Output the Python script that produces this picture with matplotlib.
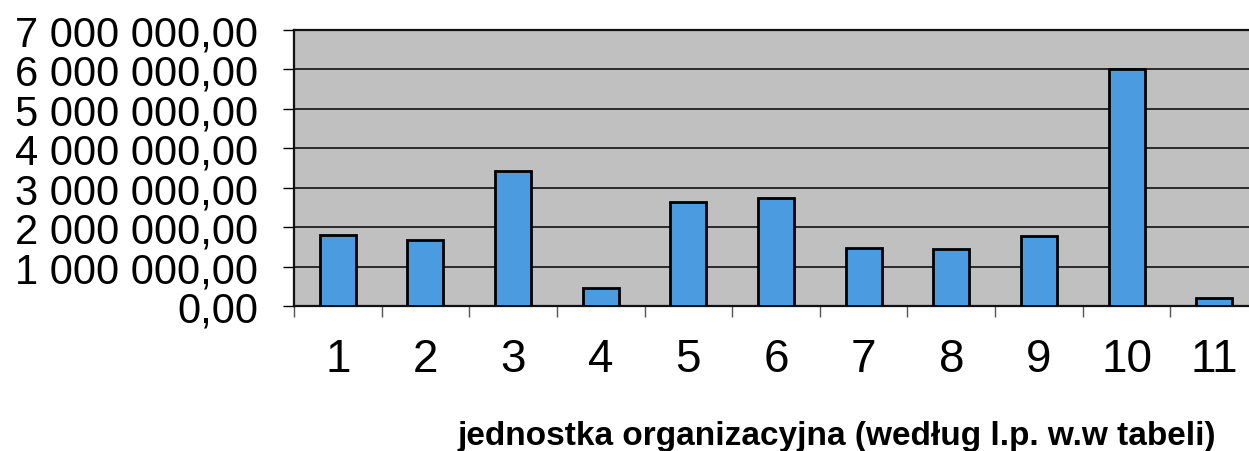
import matplotlib
matplotlib.use("Agg")
import matplotlib.pyplot as plt
from matplotlib.ticker import FuncFormatter, MultipleLocator, FixedLocator

plt.rcParams['font.family'] = ['Liberation Sans', 'DejaVu Sans']

# wartości
units = ["1", "2", "3", "4", "5", "6", "7", "8", "9", "10", "11"]
amounts = [1800000, 1680000, 3430000, 460000, 2630000, 2750000,
           1470000, 1440000, 1780000, 6000000, 200000]
x_title = "jednostka organizacyjna (według l.p. w.w tabeli)"

BAR_COLOR = "#4b9be0"
PLOT_BG = "#c0c0c0"


def pl_money(v, pos):
    s = f"{v:,.2f}"
    return s.replace(",", " ").replace(".", ",")


fig = plt.figure(figsize=(12.49, 4.52), dpi=100)
ax = fig.add_axes([294 / 1249, 145 / 452, 964 / 1249, 276 / 452])
ax.set_facecolor(PLOT_BG)

xs = list(range(len(units)))
ax.bar(xs, amounts, width=0.41, color=BAR_COLOR, edgecolor="black",
       linewidth=2, zorder=3)

ax.set_xlim(-0.5, len(units) - 0.5)
ax.set_ylim(0, 7000000)
ax.yaxis.set_major_locator(MultipleLocator(1000000))
ax.yaxis.set_major_formatter(FuncFormatter(pl_money))
ax.grid(axis="y", color="#2a2a2a", linewidth=1.4, zorder=1)

ax.set_xticks(xs)
ax.set_xticklabels(units)
ax.xaxis.set_minor_locator(FixedLocator([i - 0.5 for i in range(len(units) + 1)]))
ax.tick_params(axis="x", which="major", length=0, pad=22, labelsize=33)
ax.tick_params(axis="x", which="minor", length=8, width=1, color="#555555")
ax.tick_params(axis="y", length=8, width=1, pad=18, labelsize=30)

for side in ["top", "left", "bottom"]:
    ax.spines[side].set_color("#111111")
    ax.spines[side].set_linewidth(1.6)
ax.spines["right"].set_visible(False)

fig.text(837 / 1249, 1 - 437 / 452, x_title, ha="center", va="center",
         fontsize=24, fontweight="bold")

fig.savefig("out.png", dpi=100)
